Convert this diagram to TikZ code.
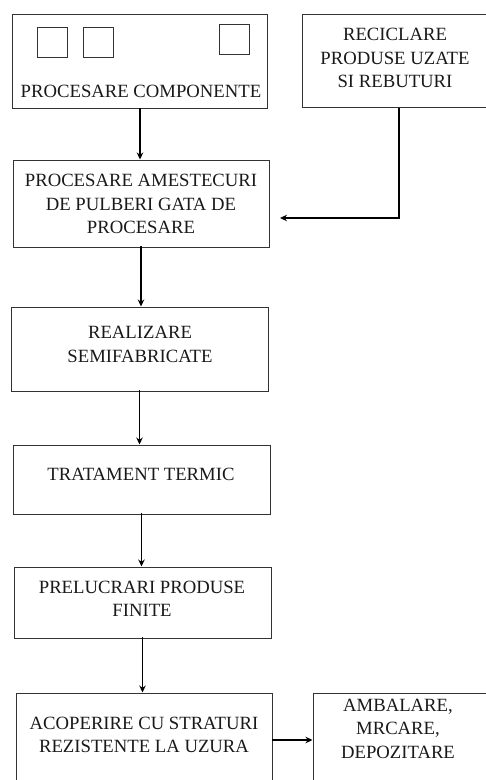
\documentclass[tikz,border=0pt]{standalone}
\usepackage{fontspec}
\setmainfont{Liberation Serif}
\usetikzlibrary{arrows.meta}
\begin{document}
\begin{tikzpicture}[x=1pt,y=-1pt,
  box/.style={draw=black!80,line width=1pt,rectangle,inner sep=0pt},
  sq/.style={draw=black!80,line width=0.9pt,rectangle,inner sep=0pt,minimum width=30pt,minimum height=30pt},
  lbl/.style={font=\fontsize{18.7}{23.5}\selectfont,align=center,inner sep=0pt,text=black!90},
  arr/.style={line width=1.6pt,-{Stealth[length=7pt,width=6.5pt]}}]
\useasboundingbox (0,0) rectangle (486,780);
\clip (0,0) rectangle (486,780);
% boxes
\node[box,minimum width=255pt,minimum height=94pt] (b1) at (140,61) {};
\node[sq] (s1) at (52,42) {};
\node[sq] (s2) at (98,42) {};
\node[sq] (s3) at (234,39.5) {};
\node[lbl] (t1) at (141,91) {PROCESARE COMPONENTE};
\node[box,minimum width=186pt,minimum height=93pt] (r) at (395,60.5) {};
\node[lbl] (tr) at (395,58) {RECICLARE\\PRODUSE UZATE\\SI REBUTURI};
\node[box,minimum width=256pt,minimum height=87pt] (b2) at (141,203.5) {};
\node[lbl] (t2) at (141,204) {PROCESARE AMESTECURI\\DE PULBERI GATA DE\\PROCESARE};
\node[box,minimum width=257pt,minimum height=84pt] (b3) at (139.5,349) {};
\node[lbl] (t3) at (140,344.5) {REALIZARE\\SEMIFABRICATE};
\node[box,minimum width=257pt,minimum height=69pt] (b4) at (141.5,479.5) {};
\node[lbl] (t4) at (141,474) {TRATAMENT TERMIC};
\node[box,minimum width=257pt,minimum height=71pt] (b5) at (142.5,602.5) {};
\node[lbl] (t5) at (142,599) {PRELUCRARI PRODUSE\\FINITE};
\node[box,minimum width=256pt,minimum height=100pt] (b6) at (144,743) {};
\node[lbl] (t6) at (144,735) {ACOPERIRE CU STRATURI\\REZISTENTE LA UZURA};
\node[box,minimum width=177pt,minimum height=100pt] (b7) at (401.5,743) {};
\node[lbl] (t7) at (398,728.5) {AMBALARE,\\MRCARE,\\DEPOZITARE};
% connectors
\coordinate (rin) at (280,218);
\coordinate (a6) at (272,740);
\draw[arr] ([yshift=1pt]b1.south) -- (b1.south |- b2.north);
\draw[arr] ([xshift=4pt]r.south) |- (rin);
\draw[arr] ([yshift=1.5pt]b2.south) -- (b2.south |- b3.north);
\draw[arr] ([yshift=1.5pt]b3.south) -- (b3.south |- b4.north);
\draw[arr] ([yshift=1.5pt]b4.south) -- (b4.south |- b5.north);
\draw[arr] ([yshift=1.5pt]b5.south) -- (b5.south |- b6.north);
\draw[arr] (a6) -- (a6 -| b7.west);
\end{tikzpicture}
\end{document}
